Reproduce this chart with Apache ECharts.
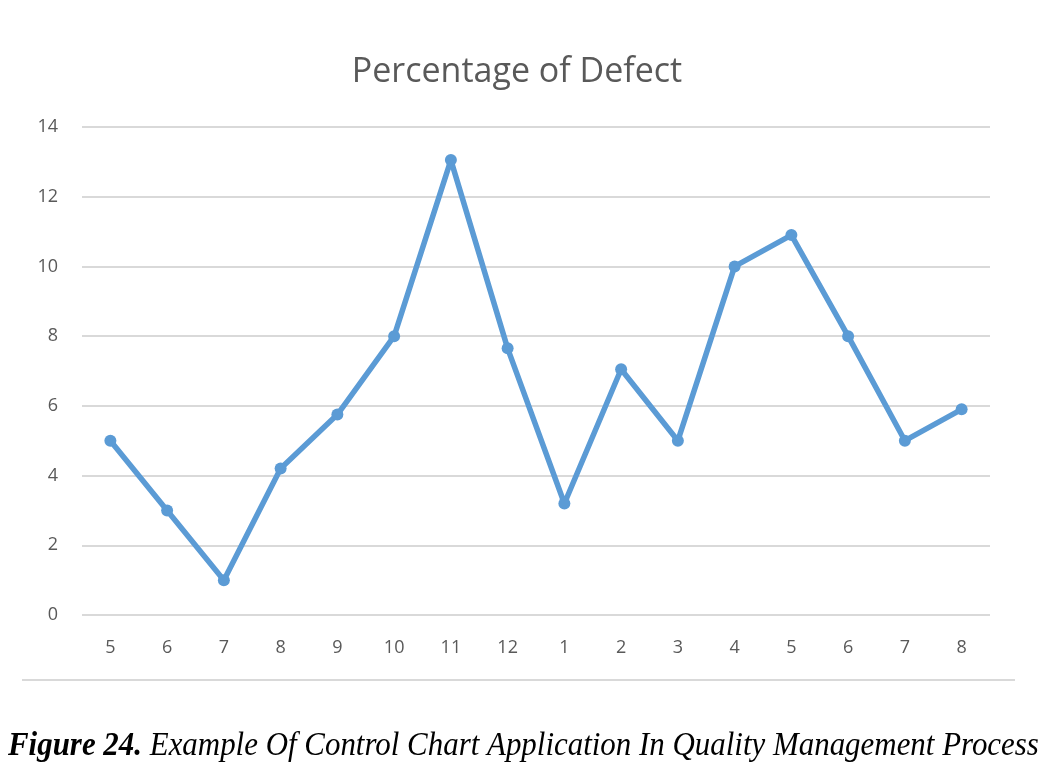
<!DOCTYPE html>
<html><head><meta charset="utf-8">
<script src="https://cdn.jsdelivr.net/npm/echarts@6/dist/echarts.min.js"></script>
<style>html,body{margin:0;padding:0;background:#fff}#c{width:1056px;height:772px}</style>
</head><body><div id="c"></div>
<script>
var categories = ['5','6','7','8','9','10','11','12','1','2','3','4','5','6','7','8'];
var defectValues = [5, 3, 1, 4.2, 5.75, 8, 13.05, 7.65, 3.2, 7.05, 5, 10, 10.9, 8, 5, 5.9];
var yTicks = {min: 0, max: 14, interval: 2};

var chart = echarts.init(document.getElementById('c'));
chart.setOption({
  backgroundColor: '#fff',
  animation: false,
  title: {
    text: 'Percentage of Defect',
    left: 512, top: 50, textAlign: 'center',
    textStyle: {fontFamily: 'Open Sans', fontWeight: 'normal', fontSize: 34, color: '#595959'}
  },
  grid: {left: 82, right: 66, top: 127, bottom: 157},
  xAxis: {
    type: 'category', data: categories, boundaryGap: true,
    axisLine: {show: false}, axisTick: {show: false},
    axisLabel: {color: '#595959', fontSize: 18, fontFamily: 'Open Sans', margin: 24}
  },
  yAxis: {
    type: 'value', min: yTicks.min, max: yTicks.max, interval: yTicks.interval,
    axisLine: {show: false}, axisTick: {show: false},
    axisLabel: {color: '#595959', fontSize: 18, fontFamily: 'Open Sans', margin: 24},
    splitLine: {lineStyle: {color: '#d9d9d9', width: 2}}
  },
  series: [{
    type: 'line', data: defectValues,
    lineStyle: {color: '#5b9bd5', width: 5.5},
    itemStyle: {color: '#5b9bd5'},
    symbol: 'circle', symbolSize: 12
  }],
  graphic: [
    {type: 'line', shape: {x1: 22, y1: 680, x2: 1015, y2: 680}, style: {stroke: '#d9d9d9', lineWidth: 2}},
    {type: 'text', x: 8, y: 746, scaleX: 0.937,
      style: {rich: {
        b: {fontFamily: 'Liberation Serif', fontStyle: 'italic', fontWeight: 'bold', fontSize: 33, fill: '#000'},
        n: {fontFamily: 'Liberation Serif', fontStyle: 'italic', fontSize: 33, fill: '#000'}
      }, text: '{b|Figure 24.}{n| Example Of Control Chart Application In Quality Management Process}', verticalAlign: 'middle'}}
  ]
});
</script></body></html>
